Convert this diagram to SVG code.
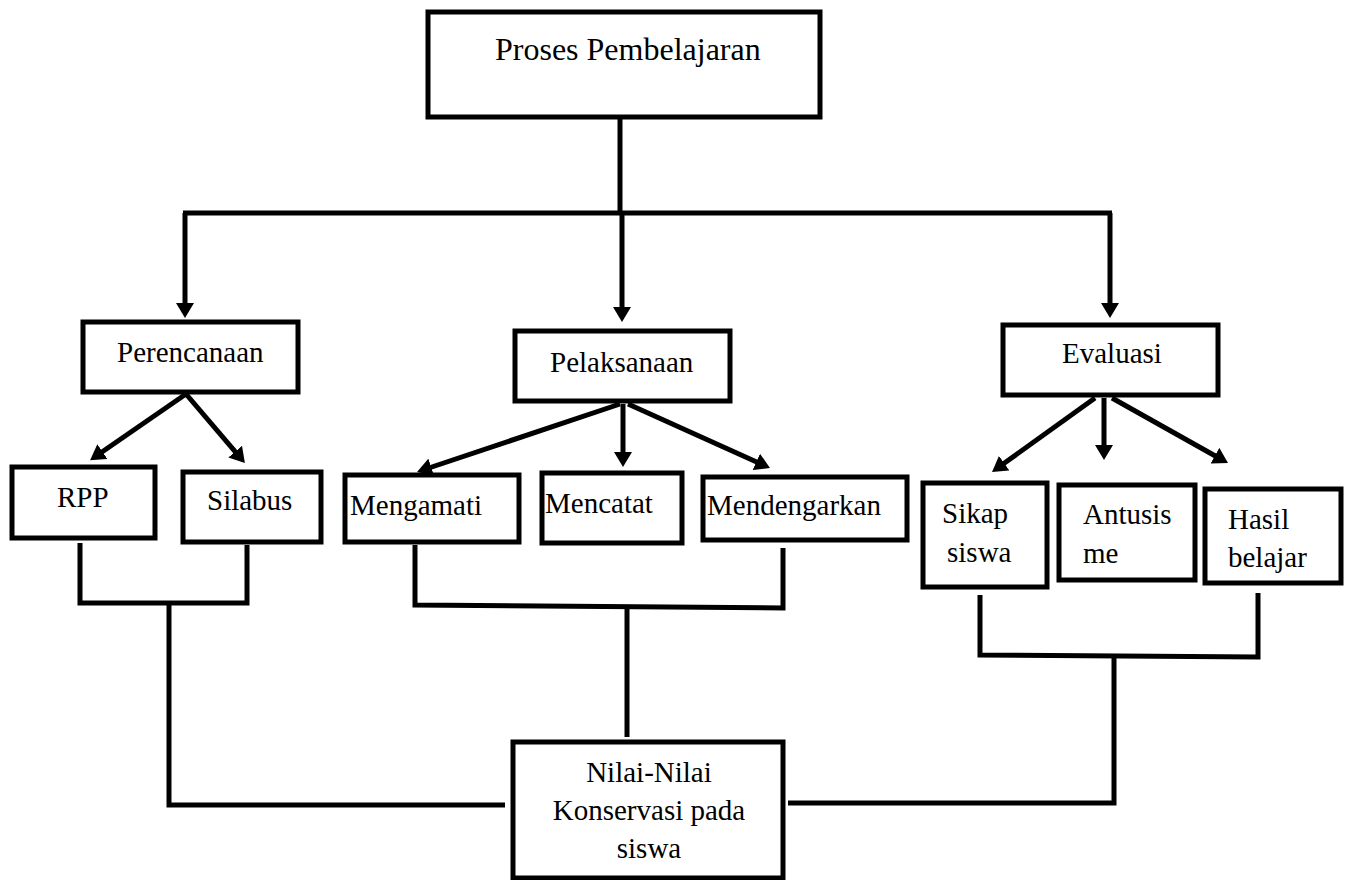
<svg xmlns="http://www.w3.org/2000/svg" width="1345" height="880" viewBox="0 0 1345 880">
<style>
.box{fill:#fff;stroke:#000;stroke-width:5}
.t{font-family:"Liberation Serif","Times New Roman",serif;font-size:29px;fill:#000}
.title{font-size:32px}
.c{text-anchor:middle}
.ln{fill:none;stroke:#000;stroke-width:5;stroke-linejoin:miter}
</style>
<defs>
<marker id="ah" markerUnits="userSpaceOnUse" markerWidth="18" markerHeight="18" refX="1" refY="9" orient="auto">
<path d="M0,0 L15,9 L0,18 z" fill="#000"/>
</marker>
</defs>
<rect x="0" y="0" width="1345" height="880" fill="#fff"/>

<g id="connectors">
<polyline class="ln" points="620,117 620,213"/>
<polyline class="ln" points="183,213 1112,213"/>
<line class="ln" x1="185" y1="213" x2="185" y2="304" marker-end="url(#ah)"/>
<line class="ln" x1="622" y1="213" x2="622" y2="308" marker-end="url(#ah)"/>
<line class="ln" x1="1110" y1="213" x2="1110" y2="304" marker-end="url(#ah)"/>

<line class="ln" x1="186" y1="394" x2="101.6" y2="452.2" marker-end="url(#ah)"/>
<line class="ln" x1="186" y1="394" x2="235.8" y2="452.4" marker-end="url(#ah)"/>

<line class="ln" x1="620" y1="404" x2="430.3" y2="467.5" marker-end="url(#ah)"/>
<line class="ln" x1="623" y1="404" x2="623" y2="453" marker-end="url(#ah)"/>
<line class="ln" x1="628" y1="404" x2="757.2" y2="462.3" marker-end="url(#ah)"/>

<line class="ln" x1="1095" y1="398" x2="1003.4" y2="463.8" marker-end="url(#ah)"/>
<line class="ln" x1="1104" y1="398" x2="1104" y2="446" marker-end="url(#ah)"/>
<line class="ln" x1="1112" y1="398" x2="1215.8" y2="456.2" marker-end="url(#ah)"/>

<polyline class="ln" points="80,543 80,603 247,603 247,545"/>
<polyline class="ln" points="169,603 169,805 505,805"/>

<polyline class="ln" points="415,545 415,605 783,608 783,548"/>
<polyline class="ln" points="627,608 627,737"/>

<polyline class="ln" points="980,595 980,655 1258,657 1258,593"/>
<polyline class="ln" points="1114,656 1114,803 788,803"/>
</g>

<g id="proses">
<rect class="box" x="428" y="12" width="392" height="105"/>
<text class="t title" x="495" y="60">Proses Pembelajaran</text>
</g>
<g id="perencanaan">
<rect class="box" x="83" y="322" width="215" height="70"/>
<text class="t" x="117" y="362">Perencanaan</text>
</g>
<g id="pelaksanaan">
<rect class="box" x="515" y="331" width="215" height="70"/>
<text class="t" x="550" y="372">Pelaksanaan</text>
</g>
<g id="evaluasi">
<rect class="box" x="1003" y="325" width="215" height="70"/>
<text class="t" x="1062" y="363">Evaluasi</text>
</g>
<g id="rpp">
<rect class="box" x="12" y="467" width="143" height="71"/>
<text class="t" x="57" y="507">RPP</text>
</g>
<g id="silabus">
<rect class="box" x="183" y="472" width="138" height="70"/>
<text class="t" x="207" y="510">Silabus</text>
</g>
<g id="mengamati">
<rect class="box" x="345" y="475" width="174" height="67"/>
<text class="t" x="350" y="515">Mengamati</text>
</g>
<g id="mencatat">
<rect class="box" x="542" y="473" width="140" height="70"/>
<text class="t" x="545" y="513">Mencatat</text>
</g>
<g id="mendengarkan">
<rect class="box" x="703" y="477" width="204" height="63"/>
<text class="t" x="707" y="515">Mendengarkan</text>
</g>
<g id="sikap">
<rect class="box" x="923" y="483" width="124" height="104"/>
<text class="t" x="942" y="523">Sikap</text>
<text class="t" x="947" y="562">siswa</text>
</g>
<g id="antusisme">
<rect class="box" x="1059" y="485" width="136" height="95"/>
<text class="t" x="1083" y="524">Antusis</text>
<text class="t" x="1083" y="563">me</text>
</g>
<g id="hasil">
<rect class="box" x="1205" y="489" width="136" height="94"/>
<text class="t" x="1228" y="529">Hasil</text>
<text class="t" x="1228" y="567">belajar</text>
</g>
<g id="nilai">
<rect class="box" x="513" y="742" width="270" height="136"/>
<text class="t c" x="649" y="782">Nilai-Nilai</text>
<text class="t c" x="649" y="820">Konservasi pada</text>
<text class="t c" x="649" y="858">siswa</text>
</g>
</svg>
